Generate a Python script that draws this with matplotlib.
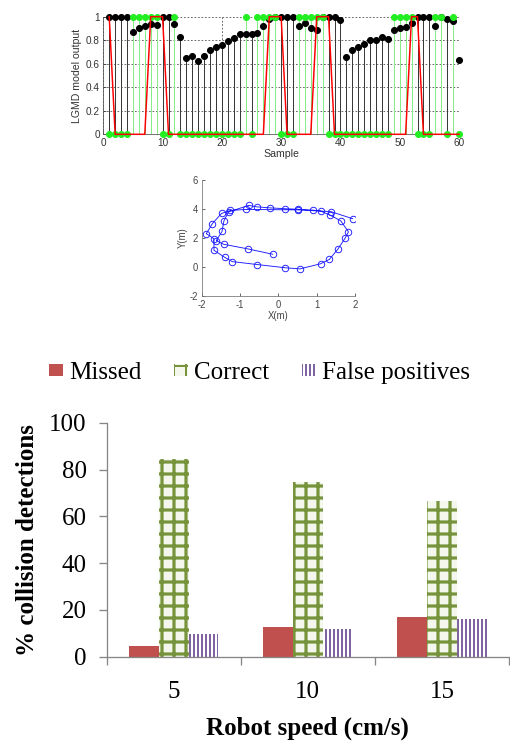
import matplotlib
matplotlib.use('Agg')
import matplotlib.pyplot as plt
import numpy as np

W, H, DPI = 510, 742, 72
plt.rcParams['axes.unicode_minus'] = False

# ---------------- top panel: LGMD output ----------------
samples = list(range(1, 61))
lgmd_output = [1.0, 1.0, 1.0, 1.0, 0.87, 0.90, 0.92, 0.94, 0.93, 1.0,
               1.0, 0.94, 0.83, 0.65, 0.67, 0.62, 0.67, 0.72, 0.74, 0.76,
               0.79, 0.82, 0.85, 0.85, 0.85, 0.86, 0.92, 0.98, 1.0, 1.0,
               1.0, 1.0, 0.92, 0.95, 0.90, 0.89, 1.0, 1.0, 1.0, 0.97,
               0.66, 0.72, 0.74, 0.77, 0.80, 0.80, 0.83, 0.81, 0.89, 0.90,
               0.91, 0.95, 1.0, 1.0, 1.0, 0.92, 1.0, 0.98, 0.96, 0.63]
detections = [0, 0, 0, 0, 1, 1, 1, 1, 1, 0,
              0, 1, 0, 0, 0, 0, 0, 0, 0, 0,
              0, 0, 0, 1, 0, 1, 1, 1, 1, 0,
              0, 0, 1, 1, 1, 1, 1, 0, 0, 0,
              0, 0, 0, 0, 0, 0, 0, 0, 1, 1,
              1, 1, 0, 0, 0, 1, 1, 0, 1, 0]
ground_truth = [1, 0, 0, 0, 0, 0, 0, 1, 1, 1,
                0, 0, 0, 0, 0, 0, 0, 0, 0, 0,
                0, 0, 0, 0, 0, 0, 0, 1, 1, 1,
                0, 0, 0, 0, 0, 1, 1, 1, 0, 0,
                0, 0, 0, 0, 0, 0, 0, 0, 0, 0,
                0, 1, 1, 0, 0, 0, 0, 0, 0, 0]
top_xticks = [0, 10, 20, 30, 40, 50, 60]
top_yticks = [0, 0.2, 0.4, 0.6, 0.8, 1.0]

# ---------------- middle panel: trajectory ----------------
traj_x = [-0.15, -0.78, -1.43, -1.62, -1.47, -1.42, -1.30, -0.77, -0.57, -0.23,
          0.17, 0.52, 0.91, 1.10, 1.35, 1.63, 1.83, 1.74, 1.55, 1.33,
          1.10, 0.56, 0.17, -0.55, -1.20, -1.40, -1.68, -1.68, -1.88, -1.72,
          -1.48, -1.25, -0.85, 0.50, 1.37, 1.94]
traj_y = [0.88, 1.24, 1.57, 1.82, 2.45, 3.18, 3.80, 4.25, 4.15, 4.08,
          4.02, 3.98, 3.92, 3.86, 3.58, 3.18, 2.42, 1.98, 1.22, 0.52,
          0.22, -0.13, -0.05, 0.17, 0.37, 0.67, 1.15, 1.95, 2.30, 3.00,
          3.70, 3.90, 3.97, 3.94, 3.82, 3.33]
mid_xticks = [-2, -1, 0, 1, 2]
mid_yticks = [-2, 0, 2, 4, 6]

# ---------------- bottom panel: bar chart ----------------
speeds = ['5', '10', '15']
missed = [4.7, 12.7, 16.8]
correct = [84.4, 74.5, 66.7]
false_pos = [9.7, 11.7, 16.0]
bar_yticks = [0, 20, 40, 60, 80, 100]

fig = plt.figure(figsize=(W / DPI, H / DPI), dpi=DPI)

def fr(x0, y0, x1, y1):
    return [x0 / W, 1 - y1 / H, (x1 - x0) / W, (y1 - y0) / H]

sans = 'Liberation Sans'
serif = 'Liberation Serif'

# ---- top
ax1 = fig.add_axes(fr(103.3, 16.7, 459.0, 134.3))
ax1.set_xlim(0, 60)
ax1.set_ylim(0, 1)
ax1.set_xticks(top_xticks)
ax1.set_yticks(top_yticks)
ax1.set_yticklabels(['0', '0.2', '0.4', '0.6', '0.8', '1'])
ax1.grid(True, linestyle=(0, (2.5, 2.5)), color='#333333', lw=0.7)
ax1.set_axisbelow(True)
ax1.vlines(samples, 0, lgmd_output, colors='#3a3a3a', lw=1.0, zorder=2)
ax1.vlines(samples, 0, detections, colors='#86ee86', lw=1.0, zorder=3)
ax1.plot(samples, lgmd_output, 'o', color='black', ms=6, zorder=4, clip_on=False)
ax1.plot(samples, detections, 'o', color='#22ee22', ms=6, zorder=5, clip_on=False)
ax1.plot(samples, ground_truth, '-', color='#ff0000', lw=1.5, zorder=6, clip_on=False)
for s in ['top', 'right']:
    ax1.spines[s].set_visible(False)
for s in ['left', 'bottom']:
    ax1.spines[s].set_color('#555555')
ax1.tick_params(direction='in', length=3, labelsize=10, colors='#333333')
for lab in ax1.get_xticklabels() + ax1.get_yticklabels():
    lab.set_family(sans)
ax1.set_xlabel('Sample', family=sans, fontsize=10.5, color='#333333', labelpad=1)
ax1.set_ylabel('LGMD model output', family=sans, fontsize=10.5, color='#333333', labelpad=4)

# ---- middle
ax2 = fig.add_axes(fr(201.7, 180.0, 355.0, 296.0))
ax2.plot(traj_x, traj_y, '-o', color='#1a1aff', lw=0.9, ms=6.5, mfc='none',
         mec='#1a1aff', mew=0.9)
ax2.set_xlim(-2, 2)
ax2.set_ylim(-2, 6)
ax2.set_xticks(mid_xticks)
ax2.set_yticks(mid_yticks)
for s in ['top', 'right']:
    ax2.spines[s].set_visible(False)
for s in ['left', 'bottom']:
    ax2.spines[s].set_color('#777777')
ax2.tick_params(direction='in', length=3, labelsize=9.5, colors='#444444')
for lab in ax2.get_xticklabels() + ax2.get_yticklabels():
    lab.set_family(sans)
ax2.set_xlabel('X(m)', family=sans, fontsize=9.5, color='#444444', labelpad=1)
ax2.set_ylabel('Y(m)', family=sans, fontsize=9.5, color='#444444', labelpad=2)


def with_hatch_lw(patch, lw):
    try:
        patch.set_hatch_linewidth(lw)
    except Exception:
        pass
    orig = patch.draw

    def draw(renderer, _orig=orig, _lw=lw):
        with plt.rc_context({'hatch.linewidth': _lw}):
            _orig(renderer)
    patch.draw = draw


# ---- bottom
ax3 = fig.add_axes(fr(106.7, 422.7, 509.0, 656.7))
pos = np.arange(len(speeds))
bw = 0.22
off = 0.223
b1 = ax3.bar(pos - off, missed, bw, color='#C0504D', lw=0, label='Missed')
plt.rcParams['hatch.linewidth'] = 3.2
b2 = ax3.bar(pos, correct, bw, facecolor='#f4f8ec', edgecolor='#77933C', lw=0,
             hatch='+', label='Correct')
for p in b2:
    with_hatch_lw(p, 3.2)
plt.rcParams['hatch.linewidth'] = 2.0
b3 = ax3.bar(pos + off, false_pos, bw, facecolor='white', edgecolor='#8064A2', lw=0,
             hatch='|||', label='False positives')
for p in b3:
    with_hatch_lw(p, 2.0)
ax3.set_xlim(-0.5, 2.5)
ax3.set_ylim(0, 100)
ax3.set_yticks(bar_yticks)
ax3.set_xticks([-0.5, 0.5, 1.5, 2.5])
ax3.set_xticklabels([])
ax3.set_xticks(pos, minor=True)
ax3.set_xticklabels(speeds, minor=True)
for s in ['top', 'right']:
    ax3.spines[s].set_visible(False)
for s in ['left', 'bottom']:
    ax3.spines[s].set_color('#868686')
    ax3.spines[s].set_linewidth(1.3)
ax3.tick_params(axis='both', which='major', direction='out', length=8, width=1.3,
                color='#868686', labelsize=25, pad=12)
ax3.tick_params(axis='x', which='minor', length=0, labelsize=25, pad=24)
for lab in ax3.get_xticklabels(minor=True) + ax3.get_yticklabels():
    lab.set_family(serif)
ax3.set_xlabel('Robot speed (cm/s)', family=serif, fontsize=25, fontweight='bold', labelpad=14)
ax3.set_ylabel('% collision detections', family=serif, fontsize=25, fontweight='bold', labelpad=10)

leg = fig.legend(handles=[b1, b2, b3], loc='center', bbox_to_anchor=(0.509, 0.497),
                 ncol=3, frameon=False, prop={'family': serif, 'size': 25},
                 handlelength=0.55, handleheight=0.38, handletextpad=0.25,
                 columnspacing=1.3, borderaxespad=0)

fig.savefig('out.png', dpi=DPI)
